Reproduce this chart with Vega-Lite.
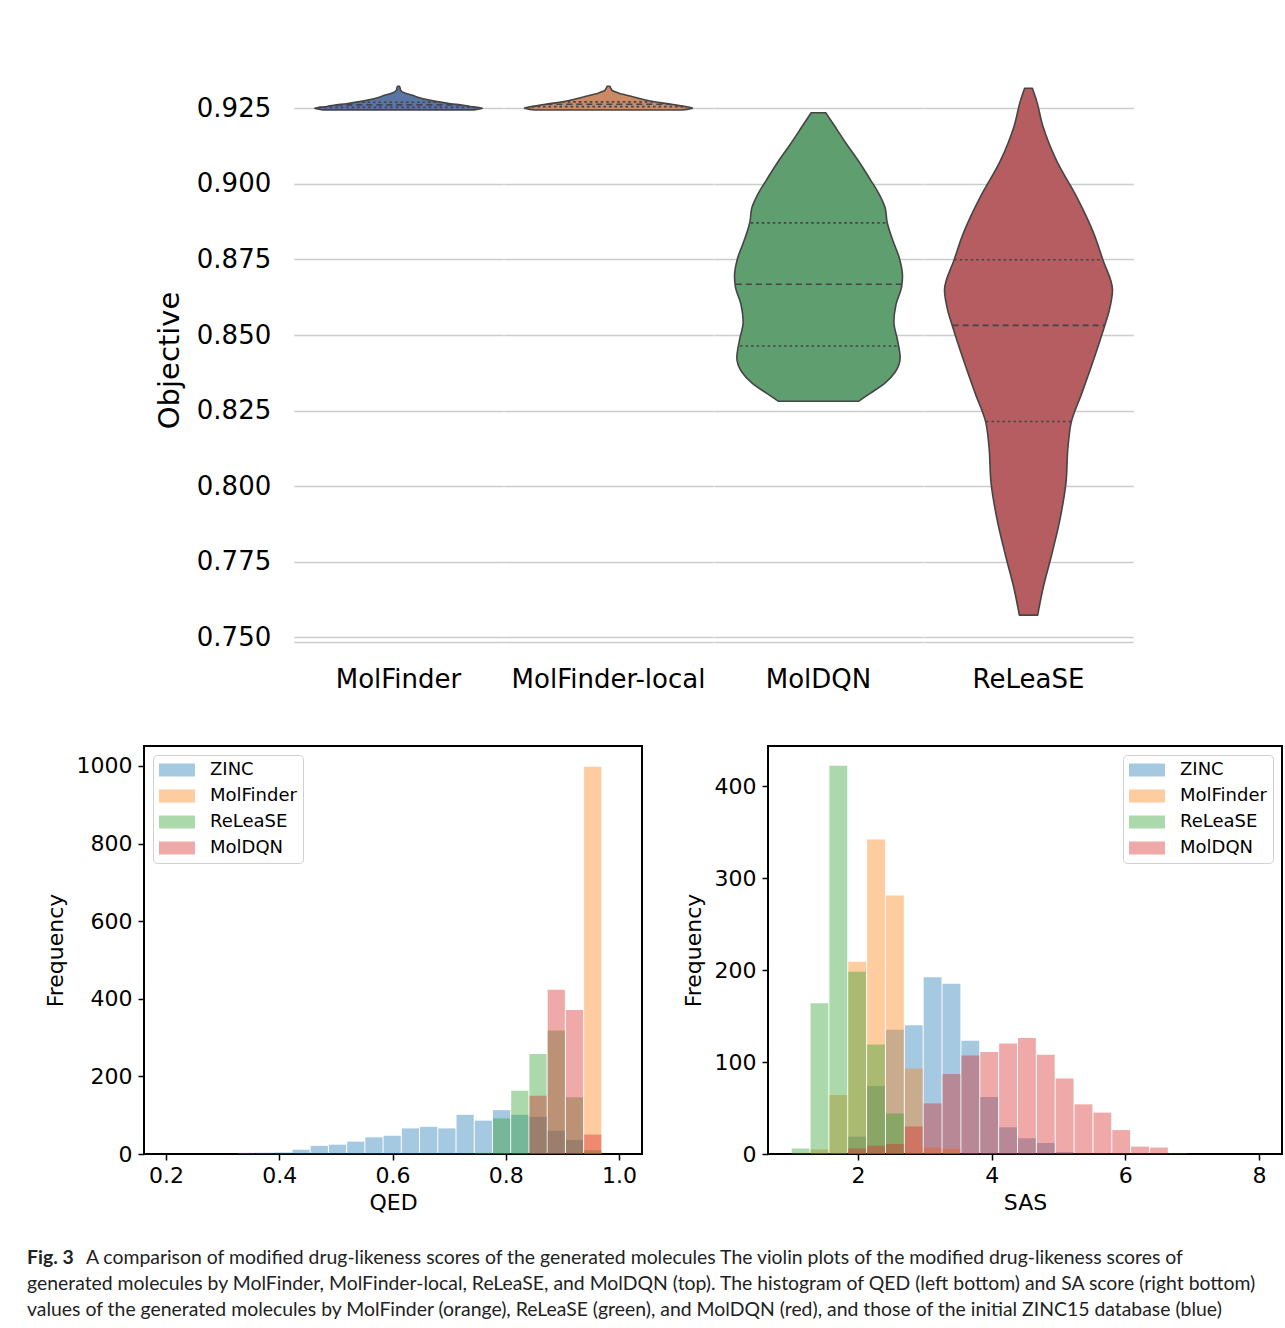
{
  "$schema": "https://vega.github.io/schema/vega-lite/v6.json",
  "background": "white",
  "padding": {"left": 27, "top": 78, "right": 4, "bottom": 10},
  "config": {
    "font": "DejaVu Sans",
    "view": {"stroke": null},
    "axis": {"labelFont": "DejaVu Sans", "titleFont": "DejaVu Sans", "labelColor": "black", "titleColor": "black", "titleFontWeight": "normal"}
  },
  "title": {
    "text": "Fig. 3",
    "subtitle": [
      "\u200b\u00a0\u00a0\u00a0\u00a0\u00a0\u00a0\u00a0\u00a0\u00a0\u00a0\u00a0\u00a0A comparison of modified drug-likeness scores of the generated molecules The violin plots of the modified drug-likeness scores of",
      "generated molecules by MolFinder, MolFinder-local, ReLeaSE, and MolDQN (top). The histogram of QED (left bottom) and SA score (right bottom)",
      "values of the generated molecules by MolFinder (orange), ReLeaSE (green), and MolDQN (red), and those of the initial ZINC15 database (blue)"
    ],
    "orient": "bottom",
    "anchor": "start",
    "font": "Lato",
    "fontSize": 19.4,
    "fontWeight": "bold",
    "color": "#222222",
    "subtitleFont": "Lato",
    "subtitleFontSize": 19.4,
    "subtitleColor": "#222222",
    "subtitleLineHeight": 26,
    "subtitlePadding": -19.4,
    "offset": 35,
    "dx": -16
  },
  "datasets": {
    "violin": [
      {"method": "MolFinder", "part": "body", "obj": 0.92445, "w": 0.9},
      {"method": "MolFinder", "part": "body", "obj": 0.925, "w": 1.0},
      {"method": "MolFinder", "part": "body", "obj": 0.9256, "w": 0.85},
      {"method": "MolFinder", "part": "body", "obj": 0.926, "w": 0.77},
      {"method": "MolFinder", "part": "body", "obj": 0.9265, "w": 0.62},
      {"method": "MolFinder", "part": "body", "obj": 0.9271, "w": 0.48},
      {"method": "MolFinder", "part": "body", "obj": 0.9276, "w": 0.38},
      {"method": "MolFinder", "part": "body", "obj": 0.9282, "w": 0.28},
      {"method": "MolFinder", "part": "body", "obj": 0.9287, "w": 0.22},
      {"method": "MolFinder", "part": "body", "obj": 0.9293, "w": 0.17},
      {"method": "MolFinder", "part": "body", "obj": 0.9298, "w": 0.1},
      {"method": "MolFinder", "part": "body", "obj": 0.9304, "w": 0.045},
      {"method": "MolFinder", "part": "body", "obj": 0.931, "w": 0.025},
      {"method": "MolFinder", "part": "body", "obj": 0.9315, "w": 0.02},
      {"method": "MolFinder", "part": "body", "obj": 0.93225, "w": 0.012},
      {"method": "MolFinder-local", "part": "body", "obj": 0.92444, "w": 0.88},
      {"method": "MolFinder-local", "part": "body", "obj": 0.92502, "w": 1.0},
      {"method": "MolFinder-local", "part": "body", "obj": 0.92562, "w": 0.9},
      {"method": "MolFinder-local", "part": "body", "obj": 0.92602, "w": 0.81},
      {"method": "MolFinder-local", "part": "body", "obj": 0.92652, "w": 0.7},
      {"method": "MolFinder-local", "part": "body", "obj": 0.92712, "w": 0.55},
      {"method": "MolFinder-local", "part": "body", "obj": 0.92762, "w": 0.46},
      {"method": "MolFinder-local", "part": "body", "obj": 0.92822, "w": 0.37},
      {"method": "MolFinder-local", "part": "body", "obj": 0.92872, "w": 0.3},
      {"method": "MolFinder-local", "part": "body", "obj": 0.92932, "w": 0.22},
      {"method": "MolFinder-local", "part": "body", "obj": 0.92982, "w": 0.14},
      {"method": "MolFinder-local", "part": "body", "obj": 0.93042, "w": 0.08},
      {"method": "MolFinder-local", "part": "body", "obj": 0.93102, "w": 0.04},
      {"method": "MolFinder-local", "part": "body", "obj": 0.93152, "w": 0.03},
      {"method": "MolFinder-local", "part": "body", "obj": 0.93227, "w": 0.015},
      {"method": "MolDQN", "part": "body", "obj": 0.8281, "w": 0.476},
      {"method": "MolDQN", "part": "body", "obj": 0.8307, "w": 0.615},
      {"method": "MolDQN", "part": "body", "obj": 0.8342, "w": 0.794},
      {"method": "MolDQN", "part": "body", "obj": 0.8378, "w": 0.913},
      {"method": "MolDQN", "part": "body", "obj": 0.8425, "w": 0.972},
      {"method": "MolDQN", "part": "body", "obj": 0.8484, "w": 0.94},
      {"method": "MolDQN", "part": "body", "obj": 0.8543, "w": 0.897},
      {"method": "MolDQN", "part": "body", "obj": 0.8602, "w": 0.923},
      {"method": "MolDQN", "part": "body", "obj": 0.866, "w": 0.99},
      {"method": "MolDQN", "part": "body", "obj": 0.8696, "w": 1.0},
      {"method": "MolDQN", "part": "body", "obj": 0.8755, "w": 0.962},
      {"method": "MolDQN", "part": "body", "obj": 0.8814, "w": 0.883},
      {"method": "MolDQN", "part": "body", "obj": 0.8873, "w": 0.817},
      {"method": "MolDQN", "part": "body", "obj": 0.892, "w": 0.794},
      {"method": "MolDQN", "part": "body", "obj": 0.8967, "w": 0.72},
      {"method": "MolDQN", "part": "body", "obj": 0.9015, "w": 0.615},
      {"method": "MolDQN", "part": "body", "obj": 0.9074, "w": 0.48},
      {"method": "MolDQN", "part": "body", "obj": 0.9132, "w": 0.333},
      {"method": "MolDQN", "part": "body", "obj": 0.9192, "w": 0.19},
      {"method": "MolDQN", "part": "body", "obj": 0.9235, "w": 0.087},
      {"method": "ReLeaSE", "part": "body", "obj": 0.7574, "w": 0.109},
      {"method": "ReLeaSE", "part": "body", "obj": 0.7658, "w": 0.169},
      {"method": "ReLeaSE", "part": "body", "obj": 0.7776, "w": 0.278},
      {"method": "ReLeaSE", "part": "body", "obj": 0.7894, "w": 0.377},
      {"method": "ReLeaSE", "part": "body", "obj": 0.8012, "w": 0.446},
      {"method": "ReLeaSE", "part": "body", "obj": 0.813, "w": 0.47},
      {"method": "ReLeaSE", "part": "body", "obj": 0.8213, "w": 0.51},
      {"method": "ReLeaSE", "part": "body", "obj": 0.8308, "w": 0.635},
      {"method": "ReLeaSE", "part": "body", "obj": 0.8426, "w": 0.784},
      {"method": "ReLeaSE", "part": "body", "obj": 0.8531, "w": 0.907},
      {"method": "ReLeaSE", "part": "body", "obj": 0.8578, "w": 0.958},
      {"method": "ReLeaSE", "part": "body", "obj": 0.8649, "w": 1.0},
      {"method": "ReLeaSE", "part": "body", "obj": 0.8749, "w": 0.885},
      {"method": "ReLeaSE", "part": "body", "obj": 0.8838, "w": 0.774},
      {"method": "ReLeaSE", "part": "body", "obj": 0.8956, "w": 0.575},
      {"method": "ReLeaSE", "part": "body", "obj": 0.9075, "w": 0.337},
      {"method": "ReLeaSE", "part": "body", "obj": 0.9193, "w": 0.169},
      {"method": "ReLeaSE", "part": "body", "obj": 0.9276, "w": 0.095},
      {"method": "ReLeaSE", "part": "body", "obj": 0.9316, "w": 0.046},
      {"method": "MolFinder", "part": "quartile", "obj": 0.927, "w": 0.5},
      {"method": "MolFinder", "part": "median", "obj": 0.9261, "w": 0.74},
      {"method": "MolFinder", "part": "quartile", "obj": 0.9253, "w": 0.95},
      {"method": "MolFinder-local", "part": "quartile", "obj": 0.92712, "w": 0.55},
      {"method": "MolFinder-local", "part": "median", "obj": 0.92632, "w": 0.74},
      {"method": "MolFinder-local", "part": "quartile", "obj": 0.92552, "w": 0.91},
      {"method": "MolDQN", "part": "quartile", "obj": 0.8871, "w": 0.806},
      {"method": "MolDQN", "part": "median", "obj": 0.8668, "w": 0.984},
      {"method": "MolDQN", "part": "quartile", "obj": 0.8464, "w": 0.933},
      {"method": "ReLeaSE", "part": "quartile", "obj": 0.8749, "w": 0.885},
      {"method": "ReLeaSE", "part": "median", "obj": 0.8532, "w": 0.903},
      {"method": "ReLeaSE", "part": "quartile", "obj": 0.8214, "w": 0.506}
    ],
    "qed": [
      {"series": "ZINC", "lo": 0.3248, "hi": 0.357, "count": 3},
      {"series": "ZINC", "lo": 0.357, "hi": 0.3892, "count": 3},
      {"series": "ZINC", "lo": 0.3892, "hi": 0.4214, "count": 4},
      {"series": "ZINC", "lo": 0.4214, "hi": 0.4536, "count": 11},
      {"series": "ZINC", "lo": 0.4536, "hi": 0.4858, "count": 21},
      {"series": "ZINC", "lo": 0.4858, "hi": 0.518, "count": 24},
      {"series": "ZINC", "lo": 0.518, "hi": 0.5502, "count": 32},
      {"series": "ZINC", "lo": 0.5502, "hi": 0.5824, "count": 43},
      {"series": "ZINC", "lo": 0.5824, "hi": 0.6146, "count": 47},
      {"series": "ZINC", "lo": 0.6146, "hi": 0.6468, "count": 66},
      {"series": "ZINC", "lo": 0.6468, "hi": 0.679, "count": 70},
      {"series": "ZINC", "lo": 0.679, "hi": 0.7112, "count": 66},
      {"series": "ZINC", "lo": 0.7112, "hi": 0.7434, "count": 101},
      {"series": "ZINC", "lo": 0.7434, "hi": 0.7756, "count": 86},
      {"series": "ZINC", "lo": 0.7756, "hi": 0.8078, "count": 113},
      {"series": "ZINC", "lo": 0.8078, "hi": 0.84, "count": 101},
      {"series": "ZINC", "lo": 0.84, "hi": 0.8722, "count": 96},
      {"series": "ZINC", "lo": 0.8722, "hi": 0.9044, "count": 60},
      {"series": "ZINC", "lo": 0.9044, "hi": 0.9366, "count": 36},
      {"series": "ZINC", "lo": 0.9366, "hi": 0.9688, "count": 3},
      {"series": "MolFinder", "lo": 0.9366, "hi": 0.9688, "count": 998},
      {"series": "ReLeaSE", "lo": 0.7434, "hi": 0.7756, "count": 3},
      {"series": "ReLeaSE", "lo": 0.7756, "hi": 0.8078, "count": 92},
      {"series": "ReLeaSE", "lo": 0.8078, "hi": 0.84, "count": 163},
      {"series": "ReLeaSE", "lo": 0.84, "hi": 0.8722, "count": 258},
      {"series": "ReLeaSE", "lo": 0.8722, "hi": 0.9044, "count": 318},
      {"series": "ReLeaSE", "lo": 0.9044, "hi": 0.9366, "count": 146},
      {"series": "ReLeaSE", "lo": 0.9366, "hi": 0.9688, "count": 10},
      {"series": "MolDQN", "lo": 0.84, "hi": 0.8722, "count": 150},
      {"series": "MolDQN", "lo": 0.8722, "hi": 0.9044, "count": 423},
      {"series": "MolDQN", "lo": 0.9044, "hi": 0.9366, "count": 371},
      {"series": "MolDQN", "lo": 0.9366, "hi": 0.9688, "count": 50}
    ],
    "sas": [
      {"series": "ZINC", "lo": 1.8386, "hi": 2.1208, "count": 19},
      {"series": "ZINC", "lo": 2.1208, "hi": 2.403, "count": 74},
      {"series": "ZINC", "lo": 2.403, "hi": 2.6852, "count": 135},
      {"series": "ZINC", "lo": 2.6852, "hi": 2.9674, "count": 140},
      {"series": "ZINC", "lo": 2.9674, "hi": 3.2496, "count": 192},
      {"series": "ZINC", "lo": 3.2496, "hi": 3.5318, "count": 185},
      {"series": "ZINC", "lo": 3.5318, "hi": 3.814, "count": 123},
      {"series": "ZINC", "lo": 3.814, "hi": 4.0962, "count": 62},
      {"series": "ZINC", "lo": 4.0962, "hi": 4.3784, "count": 29},
      {"series": "ZINC", "lo": 4.3784, "hi": 4.6606, "count": 17},
      {"series": "ZINC", "lo": 4.6606, "hi": 4.9428, "count": 12},
      {"series": "ZINC", "lo": 4.9428, "hi": 5.225, "count": 2},
      {"series": "MolFinder", "lo": 1.2742, "hi": 1.5564, "count": 5},
      {"series": "MolFinder", "lo": 1.5564, "hi": 1.8386, "count": 64},
      {"series": "MolFinder", "lo": 1.8386, "hi": 2.1208, "count": 209},
      {"series": "MolFinder", "lo": 2.1208, "hi": 2.403, "count": 342},
      {"series": "MolFinder", "lo": 2.403, "hi": 2.6852, "count": 281},
      {"series": "MolFinder", "lo": 2.6852, "hi": 2.9674, "count": 93},
      {"series": "MolFinder", "lo": 2.9674, "hi": 3.2496, "count": 7},
      {"series": "MolFinder", "lo": 3.2496, "hi": 3.5318, "count": 6},
      {"series": "ReLeaSE", "lo": 0.992, "hi": 1.2742, "count": 6},
      {"series": "ReLeaSE", "lo": 1.2742, "hi": 1.5564, "count": 164},
      {"series": "ReLeaSE", "lo": 1.5564, "hi": 1.8386, "count": 422},
      {"series": "ReLeaSE", "lo": 1.8386, "hi": 2.1208, "count": 198},
      {"series": "ReLeaSE", "lo": 2.1208, "hi": 2.403, "count": 119},
      {"series": "ReLeaSE", "lo": 2.403, "hi": 2.6852, "count": 44},
      {"series": "MolDQN", "lo": 1.8386, "hi": 2.1208, "count": 6},
      {"series": "MolDQN", "lo": 2.1208, "hi": 2.403, "count": 9},
      {"series": "MolDQN", "lo": 2.403, "hi": 2.6852, "count": 11},
      {"series": "MolDQN", "lo": 2.6852, "hi": 2.9674, "count": 30},
      {"series": "MolDQN", "lo": 2.9674, "hi": 3.2496, "count": 55},
      {"series": "MolDQN", "lo": 3.2496, "hi": 3.5318, "count": 87},
      {"series": "MolDQN", "lo": 3.5318, "hi": 3.814, "count": 107},
      {"series": "MolDQN", "lo": 3.814, "hi": 4.0962, "count": 111},
      {"series": "MolDQN", "lo": 4.0962, "hi": 4.3784, "count": 120},
      {"series": "MolDQN", "lo": 4.3784, "hi": 4.6606, "count": 126},
      {"series": "MolDQN", "lo": 4.6606, "hi": 4.9428, "count": 108},
      {"series": "MolDQN", "lo": 4.9428, "hi": 5.225, "count": 82},
      {"series": "MolDQN", "lo": 5.225, "hi": 5.5072, "count": 54},
      {"series": "MolDQN", "lo": 5.5072, "hi": 5.7894, "count": 45},
      {"series": "MolDQN", "lo": 5.7894, "hi": 6.0716, "count": 26},
      {"series": "MolDQN", "lo": 6.0716, "hi": 6.3538, "count": 8},
      {"series": "MolDQN", "lo": 6.3538, "hi": 6.636, "count": 7},
      {"series": "MolDQN", "lo": 6.636, "hi": 6.9182, "count": 1}
    ]
  },
  "center": true,
  "spacing": 52,
  "vconcat": [
    {
      "data": {"name": "violin"},
      "transform": [{"stack": "w", "groupby": ["method", "part", "obj"], "offset": "center", "as": ["w0", "w1"]}],
      "facet": {
        "column": {
          "field": "method",
          "type": "nominal",
          "sort": ["MolFinder", "MolFinder-local", "MolDQN", "ReLeaSE"],
          "header": {"title": null, "labelOrient": "bottom", "labelFont": "DejaVu Sans", "labelFontSize": 26, "labelColor": "black", "labelPadding": 25}
        }
      },
      "spacing": 0,
      "spec": {
        "width": 209.5,
        "height": 564,
        "layer": [
          {
            "transform": [{"filter": "datum.part == 'body'"}],
            "mark": {"type": "area", "orient": "horizontal", "interpolate": "monotone", "stroke": "#454545", "strokeWidth": 1.6, "strokeJoin": "round", "opacity": 1},
            "encoding": {
              "y": {
                "field": "obj", "type": "quantitative",
                "scale": {"domain": [0.74851, 0.935], "nice": false, "zero": false},
                "axis": {"values": [0.74851, 0.75, 0.775, 0.8, 0.825, 0.85, 0.875, 0.9, 0.925], "format": ".3f", "labelExpr": "datum.value < 0.7495 ? '' : datum.label", "labelOverlap": false, "title": "Objective", "titleFontSize": 29, "labelFontSize": 26, "ticks": false, "tickSize": 0, "domain": false, "grid": true, "gridColor": "#cccccc", "gridWidth": 1.6, "labelPadding": 23, "titlePadding": 12}
              },
              "x": {
                "field": "w0", "type": "quantitative",
                "scale": {"domain": [-0.1235, 1.1235], "nice": false, "zero": false},
                "axis": null
              },
              "x2": {"field": "w1"},
              "color": {
                "field": "method", "type": "nominal",
                "scale": {"domain": ["MolFinder", "MolFinder-local", "MolDQN", "ReLeaSE"], "range": ["#5975a4", "#cc8963", "#5f9e6e", "#b55d60"]},
                "legend": null
              }
            }
          },
          {
            "transform": [{"filter": "datum.part != 'body'"}],
            "mark": {"type": "rule", "stroke": "#454545", "strokeWidth": 1.6},
            "encoding": {
              "y": {"field": "obj", "type": "quantitative"},
              "x": {"field": "w0", "type": "quantitative"},
              "x2": {"field": "w1"},
              "strokeDash": {"field": "part", "type": "nominal", "scale": {"domain": ["median", "quartile"], "range": [[6, 4], [2.5, 3]]}, "legend": null}
            }
          }
        ]
      }
    },
    {
      "hconcat": [
        {
          "width": 498,
          "height": 408,
          "view": {"stroke": "black", "strokeWidth": 2, "fill": null},
          "data": {"name": "qed"},
          "mark": {"type": "bar", "opacity": 0.4, "clip": true},
          "encoding": {
            "x": {
              "field": "lo", "type": "quantitative", "bin": {"binned": true},
              "scale": {"domain": [0.161, 1.0406], "nice": false, "zero": false},
              "axis": {"values": [0.2, 0.4, 0.6, 0.8, 1.0], "format": ".1f", "title": "QED", "grid": false, "domain": false, "tickColor": "black", "tickWidth": 1.5, "tickSize": 6, "labelFontSize": 22, "titleFontSize": 22, "labelPadding": 5, "titlePadding": 6, "labelFlush": false}
            },
            "x2": {"field": "hi"},
            "y": {
              "field": "count", "type": "quantitative", "stack": null,
              "scale": {"domain": [0, 1051.5], "nice": false},
              "axis": {"values": [0, 200, 400, 600, 800, 1000], "format": "d", "title": "Frequency", "grid": false, "domain": false, "tickColor": "black", "tickWidth": 1.5, "tickSize": 6, "labelFontSize": 22, "titleFontSize": 22, "labelPadding": 6, "titlePadding": 9}
            },
            "color": {
              "field": "series", "type": "nominal",
              "scale": {"domain": ["ZINC", "MolFinder", "ReLeaSE", "MolDQN"], "range": ["#1f77b4", "#ff7f0e", "#2ca02c", "#d62728"]},
              "legend": {"title": null, "orient": "top-left", "offset": 9, "labelFont": "DejaVu Sans", "labelFontSize": 18, "labelColor": "black", "symbolType": "M-2,-0.72H2V0.72H-2Z", "symbolSize": 324, "symbolOpacity": 0.4, "symbolStrokeWidth": 0, "symbolOffset": 9, "rowPadding": 8, "labelOffset": 24, "padding": 6, "strokeColor": "#d0d0d0", "fillColor": "white", "cornerRadius": 4}
            }
          }
        },
        {
          "width": 514,
          "height": 408,
          "view": {"stroke": "black", "strokeWidth": 2, "fill": null},
          "data": {"name": "sas"},
          "mark": {"type": "bar", "opacity": 0.4, "clip": true},
          "encoding": {
            "x": {
              "field": "lo", "type": "quantitative", "bin": {"binned": true},
              "scale": {"domain": [0.653, 8.344], "nice": false, "zero": false},
              "axis": {"values": [2, 4, 6, 8], "format": "d", "title": "SAS", "grid": false, "domain": false, "tickColor": "black", "tickWidth": 1.5, "tickSize": 6, "labelFontSize": 22, "titleFontSize": 22, "labelPadding": 5, "titlePadding": 6, "labelFlush": false}
            },
            "x2": {"field": "hi"},
            "y": {
              "field": "count", "type": "quantitative", "stack": null,
              "scale": {"domain": [0, 443.5], "nice": false},
              "axis": {"values": [0, 100, 200, 300, 400], "format": "d", "title": "Frequency", "grid": false, "domain": false, "tickColor": "black", "tickWidth": 1.5, "tickSize": 6, "labelFontSize": 22, "titleFontSize": 22, "labelPadding": 6, "titlePadding": 9}
            },
            "color": {
              "field": "series", "type": "nominal",
              "scale": {"domain": ["ZINC", "MolFinder", "ReLeaSE", "MolDQN"], "range": ["#1f77b4", "#ff7f0e", "#2ca02c", "#d62728"]},
              "legend": {"title": null, "orient": "top-right", "offset": 9, "labelFont": "DejaVu Sans", "labelFontSize": 18, "labelColor": "black", "symbolType": "M-2,-0.72H2V0.72H-2Z", "symbolSize": 324, "symbolOpacity": 0.4, "symbolStrokeWidth": 0, "symbolOffset": 9, "rowPadding": 8, "labelOffset": 24, "padding": 6, "strokeColor": "#d0d0d0", "fillColor": "white", "cornerRadius": 4}
            }
          }
        }
      ],
      "spacing": 38,
      "resolve": {"scale": {"color": "independent"}, "legend": {"color": "independent"}}
    }
  ]
}
